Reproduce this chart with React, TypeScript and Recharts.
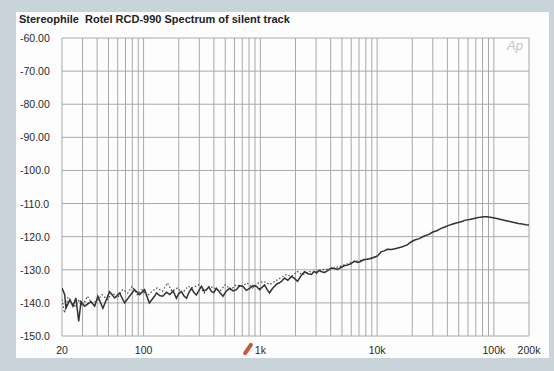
import React from "react";
import { LineChart, Line, XAxis, YAxis, CartesianGrid } from "recharts";

const title = "Stereophile  Rotel RCD-990 Spectrum of silent track";

const gridFreqs = [
  20, 30, 40, 50, 60, 70, 80, 90, 100, 200, 300, 400, 500, 600, 700, 800, 900,
  1000, 2000, 3000, 4000, 5000, 6000, 7000, 8000, 9000, 10000, 20000, 30000,
  40000, 50000, 60000, 70000, 80000, 90000, 100000, 200000,
];
const xLabels: Record<number, string> = {
  20: "20",
  100: "100",
  1000: "1k",
  10000: "10k",
  100000: "100k",
  200000: "200k",
};
const yTicks = [-150, -140, -130, -120, -110, -100, -90, -80, -70, -60];

const solidFreq = [
  20, 21.1, 21.6, 23.4, 24.8, 26.3, 27.8, 29.1, 31.3, 35.4, 38.1, 40.6, 44.8,
  51.1, 56.4, 62.2, 68.7, 75.8, 83.6, 92.3, 102, 112, 124, 129, 137, 146, 157,
  168, 179, 191, 200, 211, 222, 233, 245, 257, 270, 283, 298, 313, 329, 345,
  362, 381, 400, 420, 448, 478, 510, 546, 585, 623, 665, 709, 757, 809, 865,
  923, 985, 1087, 1140, 1199, 1260, 1323, 1390, 1450, 1530, 1610, 1720, 1848,
  1960, 2080, 2230, 2388, 2560, 2740, 2880, 3030, 3180, 3337, 3560, 3800, 4050,
  4309, 4600, 4900, 5220, 5565, 5960, 6389, 6800, 7200, 7700, 8250, 8850, 9470,
  10100, 10800, 11500, 12200, 13300, 14500, 16200, 18100, 19500, 21000, 23000,
  25300, 27500, 30000, 32500, 35400, 38000, 41000, 44500, 48500, 52500, 57000,
  62000, 67800, 72000, 77000, 82000, 87500, 96000, 106000, 115000, 125000,
  137000, 149000, 162000, 175000, 187000, 200000,
];
const solidLevel = [
  -135.5, -137.5, -141.6, -139, -141, -138.5, -145.6, -139.6, -141, -139.6,
  -141, -138, -141.6, -136.6, -138.5, -137, -140, -138, -136, -137.5, -136,
  -140, -138, -137, -137.8, -138, -136.8, -137.5, -136.4, -138.6, -137.2,
  -136.6, -137.9, -138.6, -136.8, -135.6, -136.9, -137.6, -136.2, -135, -136.4,
  -136, -135.2, -136.6, -136.9, -135.6, -136.8, -138, -136.5, -135.6, -136.4,
  -136, -134.8, -135, -136.2, -135.6, -134.8, -135, -136, -134.6, -135.9, -137,
  -135.8, -135, -134.2, -134, -133.4, -132.5, -133.2, -132, -132.6, -133.5,
  -131.8, -130.6, -131.2, -131.4, -130.5, -131, -130.2, -130.6, -130.8, -130.2,
  -129.5, -129.6, -129.9, -129.3, -128.8, -128.6, -128.2, -127.4, -127.8,
  -127.5, -126.9, -126.8, -126.6, -126.2, -125.8, -124.6, -124.3, -123.8,
  -123.9, -123.6, -123.1, -122.5, -121.6, -121, -120.6, -119.8, -119.4, -118.6,
  -118.2, -117.5, -117.1, -116.6, -116.2, -115.8, -115.5, -115, -114.8, -114.5,
  -114.3, -114.1, -114.0, -114.0, -114.2, -114.5, -114.8, -115.1, -115.4,
  -115.7, -116.0, -116.2, -116.4, -116.5,
];

const dottedFreq = [
  20, 21, 22.5, 24, 26, 28, 30, 33, 36, 40, 44, 49, 54, 60, 66, 73, 80, 88, 97,
  107, 118, 130, 145, 160, 175, 195, 215, 240, 265, 295, 330, 365, 405, 450,
  500, 560, 620, 690, 770, 860, 960, 1070, 1200, 1330, 1480, 1650, 1850, 2070,
  2300, 2600, 2900, 3300, 3800, 4300, 5000, 5800, 6700, 7800, 9000, 10000,
];
const dottedLevel = [
  -139, -143, -138.5, -140, -141, -139, -141, -138, -140, -139.5, -137.5, -139,
  -137, -138.5, -136, -137, -135, -137.5, -136, -138, -136.5, -135.5, -136.5,
  -134, -136.5, -135.5, -137, -135, -135.5, -134.5, -137, -135, -135.5, -136.5,
  -134.5, -136, -134.5, -135, -134, -135.5, -134, -133.5, -134.5, -133.5,
  -132.5, -131.5, -132, -130.5, -131.5, -130.5, -130.8, -130, -129.8, -129.4,
  -128.8, -128, -127.4, -127, -126.4, -125.8,
];

const solidData = solidFreq.map((f, i) => ({ f, v: solidLevel[i] }));
const dottedData = dottedFreq.map((f, i) => ({ f, v: dottedLevel[i] }));

const FONT = "'Liberation Sans', Arial, Helvetica, sans-serif";

const YTick = (props: any) => {
  const { y, payload } = props;
  const v = payload.value as number;
  const txt = v <= -100 ? v.toFixed(1) : v.toFixed(2);
  return (
    <text x={20} y={y + 4} textAnchor="start" fontSize={10.5} fill="#2a2a2a" fontFamily={FONT}>
      {txt}
    </text>
  );
};

const XTick = (props: any) => {
  const { x, y, payload } = props;
  const lab = xLabels[payload.value as number];
  if (!lab) return null;
  return (
    <text x={x} y={y + 10} textAnchor="middle" fontSize={10.5} fill="#2a2a2a" fontFamily={FONT}>
      {lab}
    </text>
  );
};

export default function App() {
  return (
    <div
      style={{
        position: "absolute",
        left: 0,
        top: 0,
        width: 554,
        height: 371,
        background: "#c9d3da",
        overflow: "hidden",
      }}
    >
      <div
        style={{
          position: "absolute",
          left: 16,
          top: 12,
          width: 533,
          height: 346,
          background: "#fdfdfd",
        }}
      />
      <div
        style={{
          position: "absolute",
          left: 19,
          top: 13,
          fontFamily: FONT,
          fontWeight: "bold",
          fontSize: 11,
          color: "#222",
          whiteSpace: "pre",
        }}
      >
        {title}
      </div>
      <div
        style={{
          position: "absolute",
          left: 507,
          top: 38,
          fontFamily: FONT,
          fontStyle: "italic",
          fontSize: 13,
          color: "#c4c4c4",
        }}
      >
        Ap
      </div>
      <div
        style={{
          position: "absolute",
          left: 246,
          top: 342,
          width: 4,
          height: 14,
          background: "#c8583c",
          borderRadius: 2,
          transform: "rotate(35deg)",
        }}
      />
      <div style={{ position: "absolute", left: 0, top: 0 }}>
        <LineChart
          width={554}
          height={371}
          margin={{ top: 38, right: 25, bottom: 15, left: 20 }}
        >
          <CartesianGrid
            stroke="#a8a8a8"
            strokeWidth={1}
            verticalFill={[]}
            horizontalFill={[]}
          />
          <XAxis
            dataKey="f"
            type="number"
            scale="log"
            domain={[20, 200000]}
            allowDataOverflow
            ticks={gridFreqs}
            interval={0}
            axisLine={false}
            tickLine={false}
            tick={<XTick />}
            height={20}
          />
          <YAxis
            type="number"
            domain={[-150, -60]}
            allowDataOverflow
            ticks={yTicks}
            interval={0}
            axisLine={false}
            tickLine={false}
            tick={<YTick />}
            width={42}
          />
          <Line
            data={dottedData}
            dataKey="v"
            stroke="#3a3a3a"
            strokeWidth={1.1}
            strokeDasharray="1.5 2"
            dot={false}
            isAnimationActive={false}
          />
          <Line
            data={solidData}
            dataKey="v"
            stroke="#333333"
            strokeWidth={1.5}
            dot={false}
            isAnimationActive={false}
          />
        </LineChart>
      </div>
    </div>
  );
}
